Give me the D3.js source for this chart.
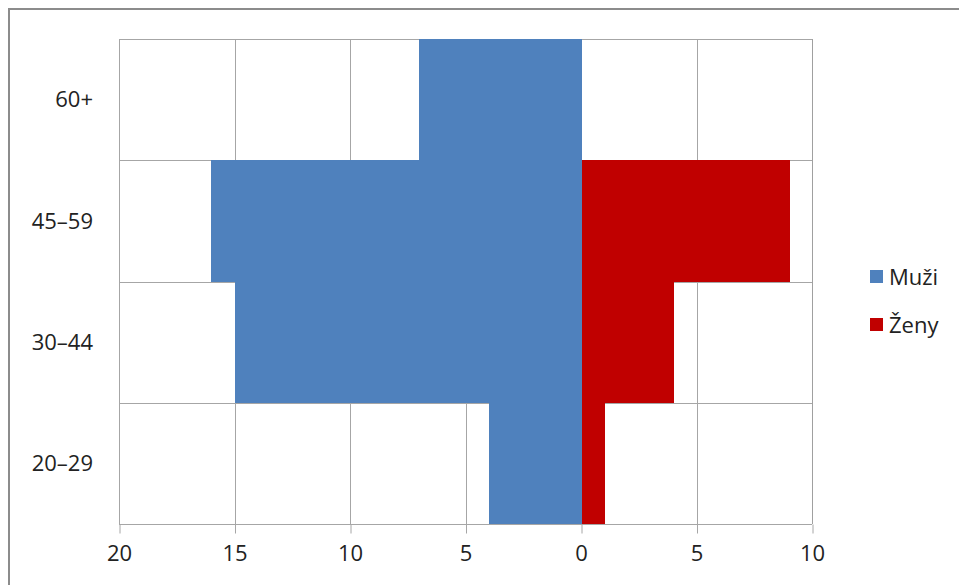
<!DOCTYPE html>
<html><head><meta charset="utf-8">
<script src="https://cdn.jsdelivr.net/npm/d3@7"></script>
<style>body{margin:0;background:#fff}svg{display:block}text{font-family:"Open Sans",sans-serif;fill:#222}</style>
</head><body><svg id="c" width="959" height="585"></svg>
<script>
const ageGroups = ["60+", "45–59", "30–44", "20–29"];
const men = [7, 16, 15, 4];
const women = [0, 9, 4, 1];
const xTicks = [-20, -15, -10, -5, 0, 5, 10];
const seriesNames = ["Muži", "Ženy"];
const seriesColors = ["#4f81bd", "#c00000"];

const svg = d3.select("#c");
svg.append("rect").attr("x",9).attr("y",9).attr("width",970).attr("height",600)
  .attr("fill","#fff").attr("stroke","#8c8c8c").attr("stroke-width",2);

const L=119, R=812, T=39, B=524;
const x = d3.scaleLinear().domain([-20,10]).range([L,R]);
const y = d3.scaleBand().domain(ageGroups).range([T,B]).padding(0);
const grid="#a6a6a6";
const g = svg.append("g").attr("shape-rendering","crispEdges");
// vertical gridlines
g.selectAll(".vg").data(xTicks).enter().append("line")
  .attr("x1",d=>Math.round(x(d))+0.5).attr("x2",d=>Math.round(x(d))+0.5).attr("y1",T).attr("y2",B)
  .attr("stroke",grid).attr("stroke-width",1);
// horizontal gridlines
g.selectAll(".hg").data(ageGroups).enter().append("line")
  .attr("x1",L).attr("x2",R).attr("y1",d=>Math.round(y(d))+0.5).attr("y2",d=>Math.round(y(d))+0.5)
  .attr("stroke",grid).attr("stroke-width",1);
// bars
const rows = ageGroups.map((a,i)=>({a, m:men[i], w:women[i]}));
const ry = d=>Math.round(y(d.a));
const rh = d=>Math.round(y(d.a)+y.bandwidth())-Math.round(y(d.a));
g.selectAll(".m").data(rows).enter().append("rect")
  .attr("x",d=>Math.round(x(-d.m))).attr("width",d=>Math.round(x(0))-Math.round(x(-d.m))+1)
  .attr("y",ry).attr("height",rh).attr("fill",seriesColors[0]);
g.selectAll(".w").data(rows).enter().append("rect")
  .attr("x",Math.round(x(0))+1).attr("width",d=>Math.max(0,Math.round(x(d.w))-Math.round(x(0))))
  .attr("y",ry).attr("height",rh).attr("fill",seriesColors[1]);
// right border
g.append("line").attr("x1",R+0.5).attr("x2",R+0.5).attr("y1",T).attr("y2",B).attr("stroke","#a0a0a0").attr("stroke-width",1.5);
// x axis
const xa = svg.append("g").attr("transform",`translate(0,${B+0.5})`)
  .call(d3.axisBottom(x).tickValues(xTicks).tickFormat(d=>Math.abs(d)).tickSize(9).tickPadding(12));
xa.select(".domain").attr("stroke",grid).attr("d",`M${L},0H${R}`);
xa.selectAll(".tick line").attr("stroke",grid).attr("transform","translate(0.5,0)");
xa.selectAll(".tick text").attr("font-size",22).attr("font-family","Open Sans").attr("fill","#222");
// y labels
svg.selectAll(".yl").data(ageGroups).enter().append("text")
  .attr("x",93).attr("y",d=>y(d)+y.bandwidth()/2).attr("dy","0.35em")
  .attr("text-anchor","end").attr("font-size",22).text(d=>d);
// legend
const lg = svg.selectAll(".lg").data(seriesNames).enter().append("g")
  .attr("transform",(d,i)=>`translate(870,${270+i*48})`);
lg.append("rect").attr("width",13).attr("height",13).attr("fill",(d,i)=>seriesColors[i]);
lg.append("text").attr("x",19).attr("y",7).attr("dy","0.35em").attr("font-size",22).text(d=>d);
</script></body></html>
